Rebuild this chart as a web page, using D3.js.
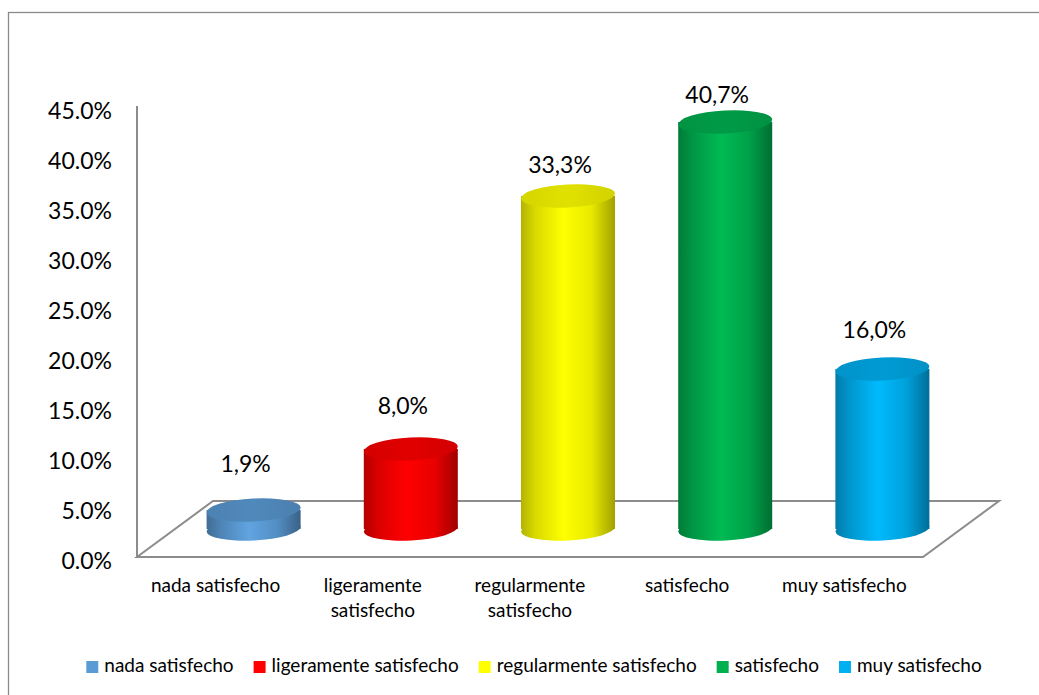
<!DOCTYPE html>
<html>
<head>
<meta charset="utf-8">
<script src="https://cdn.jsdelivr.net/npm/d3@7"></script>
<style>
  html, body { margin: 0; padding: 0; background: #fff; }
  svg { display: block; font-family: Lato, "Open Sans", sans-serif; }
</style>
</head>
<body>
<svg id="chart" width="1039" height="695"></svg>
<script>
// ---- data ----
const categories = ["nada satisfecho", "ligeramente satisfecho", "regularmente satisfecho", "satisfecho", "muy satisfecho"];
const categoryLines = [["nada satisfecho"], ["ligeramente", "satisfecho"], ["regularmente", "satisfecho"], ["satisfecho"], ["muy satisfecho"]];
const values = [1.9, 8.0, 33.3, 40.7, 16.0];
const valueLabels = ["1,9%", "8,0%", "33,3%", "40,7%", "16,0%"];
const colors = ["#5B9BD5", "#FF0000", "#FFFF00", "#00B050", "#00B0F0"];
const yTicks = [0, 5, 10, 15, 20, 25, 30, 35, 40, 45];
const yTickLabels = ["0.0%", "5.0%", "10.0%", "15.0%", "20.0%", "25.0%", "30.0%", "35.0%", "40.0%", "45.0%"];

// ---- layout ----
const svg = d3.select("#chart");
const frontLeft = 137, frontRight = 923, frontY = 557;
const depthX = 76, depthY = 56;
const axisTop = 106;

const y = d3.scaleLinear().domain([0, 45]).range([frontY, 107]);
const x = d3.scaleBand().domain(categories).range([frontLeft, frontRight]);
const labelY = d3.scaleLinear().domain([0, 45]).range([481, 53]);

const rx = 47, ry = 11.5, tilt = -3;

// outer border
svg.append("rect").attr("x", 8.5).attr("y", 12.5).attr("width", 1200).attr("height", 900)
  .attr("fill", "none").attr("stroke", "#8a8a8a").attr("stroke-width", 1.3);

// floor
const floorPts = [[frontLeft, frontY], [frontRight, frontY], [frontRight + depthX, frontY - depthY], [frontLeft + depthX, frontY - depthY]];
svg.append("path").attr("d", d3.line()(floorPts) + "Z")
  .attr("fill", "none").attr("stroke", "#8c8c8c").attr("stroke-width", 2).attr("stroke-linejoin", "miter");
// vertical axis line
svg.append("line").attr("x1", frontLeft).attr("x2", frontLeft).attr("y1", axisTop).attr("y2", frontY)
  .attr("stroke", "#8c8c8c").attr("stroke-width", 2);

// y tick labels
svg.append("g").selectAll("text").data(yTicks).join("text")
  .attr("x", 112).attr("y", d => y(d) + 3)
  .attr("text-anchor", "end").attr("dominant-baseline", "central")
  .attr("font-size", 23).attr("fill", "#000")
  .text((d, i) => yTickLabels[i]);

// gradients
const defs = svg.append("defs");
const barCx = c => x(c) + x.bandwidth() / 2 + depthX / 2;
const baseY = frontY - depthY / 2;
const barTop = v => y(v) - depthY / 2;

categories.forEach((c, i) => {
  const base = d3.color(colors[i]);
  const cx = barCx(c);
  const g = defs.append("linearGradient").attr("id", "body" + i)
    .attr("gradientUnits", "userSpaceOnUse")
    .attr("x1", cx - rx).attr("x2", cx + rx).attr("y1", 0).attr("y2", 0);
  const stops = [[0, base.darker(1.0)], [0.15, base.darker(0.45)], [0.45, base.brighter(0.15)], [0.75, base.darker(0.25)], [1, base.darker(1.3)]];
  stops.forEach(s => g.append("stop").attr("offset", s[0]).attr("stop-color", s[1].formatHex()));
  const t = defs.append("linearGradient").attr("id", "top" + i)
    .attr("gradientUnits", "userSpaceOnUse")
    .attr("x1", cx - rx).attr("x2", cx + rx).attr("y1", 0).attr("y2", 0);
  [[0, base.darker(0.5)], [0.5, base.darker(0.35)], [1, base.darker(0.55)]]
    .forEach(s => t.append("stop").attr("offset", s[0]).attr("stop-color", s[1].formatHex()));
});

// bars (cylinders)
const bars = svg.append("g").selectAll("g").data(categories).join("g");
bars.each(function (c, i) {
  const g = d3.select(this);
  const cx = barCx(c);
  const ty = barTop(values[i]);
  g.append("ellipse").attr("cx", cx).attr("cy", baseY).attr("rx", rx).attr("ry", ry)
    .attr("transform", `rotate(${tilt},${cx},${baseY})`)
    .attr("fill", `url(#body${i})`);
  g.append("rect").attr("x", cx - rx).attr("y", ty).attr("width", 2 * rx).attr("height", Math.max(0, baseY - ty))
    .attr("fill", `url(#body${i})`);
  g.append("ellipse").attr("cx", cx).attr("cy", ty).attr("rx", rx).attr("ry", ry)
    .attr("transform", `rotate(${tilt},${cx},${ty})`)
    .attr("fill", `url(#top${i})`);
});

// value labels
svg.append("g").selectAll("text").data(categories).join("text")
  .attr("x", c => barCx(c) - 8)
  .attr("y", (c, i) => labelY(values[i]))
  .attr("text-anchor", "middle").attr("dominant-baseline", "central")
  .attr("font-size", 23).attr("fill", "#000")
  .text((c, i) => valueLabels[i]);

// category labels
const cat = svg.append("g").selectAll("text").data(categories).join("text")
  .attr("x", c => x(c) + x.bandwidth() / 2)
  .attr("y", 592)
  .attr("text-anchor", "middle").attr("font-size", 19).attr("fill", "#000");
cat.each(function (c, i) {
  const t = d3.select(this);
  categoryLines[i].forEach((line, k) => {
    t.append("tspan").attr("x", x(c) + x.bandwidth() / 2).attr("dy", k === 0 ? 0 : 25).text(line);
  });
});

// legend
const legend = svg.append("g");
const items = legend.selectAll("g").data(categories).join("g");
items.append("rect").attr("width", 12).attr("height", 12).attr("y", -11)
  .attr("fill", (c, i) => colors[i]);
items.append("text").attr("x", 18).attr("y", 0).attr("font-size", 19).attr("fill", "#000").text(c => c);
let pos = 0;
const offsets = [];
items.each(function () {
  offsets.push(pos);
  const w = d3.select(this).select("text").node().getComputedTextLength();
  pos += 18 + w + 20;
});
const totalW = pos - 20;
const legendStart = 534 - totalW / 2;
items.attr("transform", (c, i) => `translate(${legendStart + offsets[i]},672)`);
</script>
</body>
</html>
